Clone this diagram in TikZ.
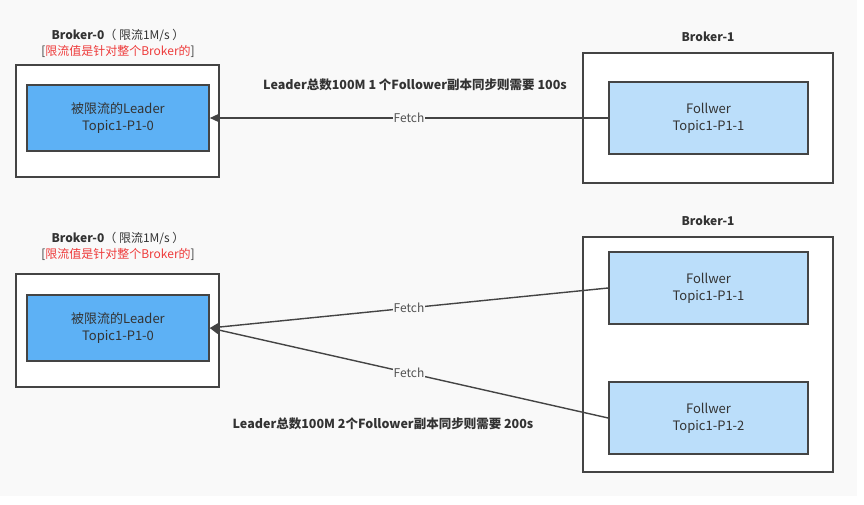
\documentclass[tikz,border=0pt]{standalone}
\usepackage{fontspec}
\setmainfont{Noto Sans CJK SC}
\usetikzlibrary{arrows.meta,positioning}
\definecolor{canvas}{HTML}{F9F9F9}
\definecolor{frame}{HTML}{444444}
\definecolor{leaderblue}{HTML}{5DB1F5}
\definecolor{followblue}{HTML}{BBDEFA}
\definecolor{inktext}{HTML}{333333}
\definecolor{limitred}{HTML}{EE3B3B}
\tikzset{
  brokerbox/.style={draw=frame, line width=1.6pt, fill=white, inner sep=0pt},
  leaderbox/.style={draw=frame, line width=1.6pt, fill=leaderblue, align=center,
    minimum width=182pt, minimum height=66pt, font=\fontsize{13}{17}\selectfont, text=inktext},
  followbox/.style={leaderbox, fill=followblue, minimum width=199pt, minimum height=72pt},
  headlabel/.style={align=center, font=\fontsize{12}{16}\selectfont, text=inktext},
  notelabel/.style={font=\bfseries\fontsize{12.5}{15}\selectfont, text=inktext},
  fetcharr/.style={-{Triangle[length=9pt, width=8pt]}, line width=1.4pt, draw=frame},
  fetchlab/.style={fill=canvas, inner sep=1pt, font=\fontsize{12}{14}\selectfont, text=inktext!85}
}
\begin{document}
\begin{tikzpicture}[x=1pt, y=-1pt]
  \useasboundingbox (0,0) rectangle (864,505);
  \fill[canvas] (0,0) rectangle (857,496);

  % one follower
  \draw[brokerbox] (16,65) rectangle (219,177);
  \draw[brokerbox] (583,53) rectangle (833,183);
  \node[leaderbox] (lead1) at (118,118) {被限流的Leader\\Topic1-P1-0};
  \node[followbox] (foll1) at (708.5,118) {Follwer\\Topic1-P1-1};
  \node[headlabel] (broker0a) at (118,43) {\textbf{Broker-0}（ 限流1M/s ）\\{[}\textcolor{limitred}{限流值是针对整个Broker的}{]}};
  \node[headlabel, font=\bfseries\fontsize{12}{16}\selectfont] (broker1a) at (708,37) {Broker-1};
  \node[notelabel] (note1) at (415,85) {Leader总数100M 1 个Follower副本同步则需要 100s};
  \draw[fetcharr] (foll1.west) -- node[fetchlab] {Fetch} (lead1.east);

  % two followers
  \draw[brokerbox] (16,274) rectangle (219,387);
  \draw[brokerbox] (583,237) rectangle (833,472);
  \node[leaderbox] (lead2) at (118,328) {被限流的Leader\\Topic1-P1-0};
  \node[followbox] (foll2) at (708.5,288) {Follwer\\Topic1-P1-1};
  \node[followbox] (foll3) at (708.5,418) {Follwer\\Topic1-P1-2};
  \node[headlabel] (broker0b) at (118,246) {\textbf{Broker-0}（ 限流1M/s ）\\{[}\textcolor{limitred}{限流值是针对整个Broker的}{]}};
  \node[headlabel, font=\bfseries\fontsize{12}{16}\selectfont] (broker1b) at (708,221) {Broker-1};
  \node[notelabel] (note2) at (383,424) {Leader总数100M 2个Follower副本同步则需要 200s};
  \draw[fetcharr] (foll2.west) -- node[fetchlab] {Fetch} (lead2.east);
  \draw[fetcharr] (foll3.west) -- node[fetchlab] {Fetch} (lead2.east);
\end{tikzpicture}
\end{document}
